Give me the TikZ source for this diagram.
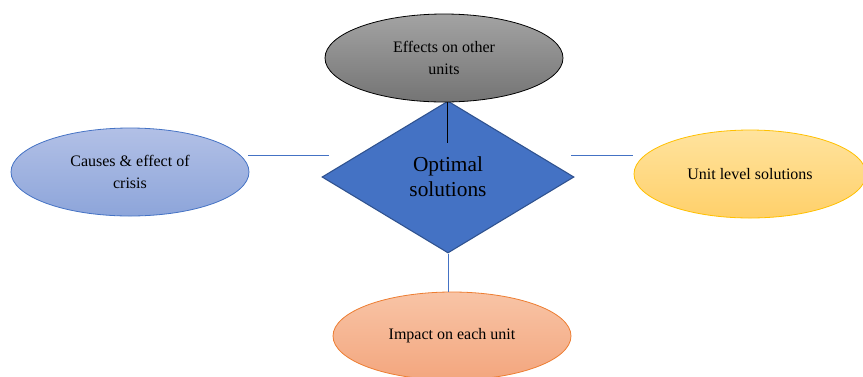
\documentclass[tikz,border=0pt]{standalone}
\usepackage{fontspec}
\setmainfont{Liberation Serif}
\usetikzlibrary{shapes.geometric}
\definecolor{accblue}{HTML}{4472C4}
\definecolor{darkblue}{HTML}{2F528F}
\definecolor{greytop}{HTML}{A3A3A3}
\definecolor{greybot}{HTML}{747474}
\definecolor{bluetop}{HTML}{B2C0E6}
\definecolor{bluebot}{HTML}{8DA5DA}
\definecolor{goldtop}{HTML}{FFE39E}
\definecolor{goldbot}{HTML}{FFD06A}
\definecolor{golden}{HTML}{FFC000}
\definecolor{peachtop}{HTML}{F8C4A6}
\definecolor{peachbot}{HTML}{F3A67E}
\definecolor{orangeline}{HTML}{ED7D31}

\begin{document}
\begin{tikzpicture}[x=0.75pt,y=0.75pt,yscale=-1,xscale=1,
  oval/.style={ellipse,minimum width=178.5pt,minimum height=66pt,inner sep=0.75pt,
    align=center,font=\fontsize{12}{16.5}\selectfont},
  link/.style={draw=accblue,line width=0.6pt}]
\useasboundingbox (0,0) rectangle (863,376);

%Diamond
\node (optimal) [diamond,aspect=1.66,minimum width=189pt,minimum height=114pt,
  fill=accblue,draw=darkblue,line width=0.8pt,align=center,
  font=\fontsize{16}{19}\selectfont] at (448,177) {Optimal\\solutions};

%Ellipses
\node (effects) [oval,draw=black,line width=0.6pt,top color=greytop,bottom color=greybot] at (444,58) {Effects on other\\units};
\node (causes) [oval,draw=accblue,line width=0.6pt,top color=bluetop,bottom color=bluebot] at (130,172) {Causes \& effect of\\crisis};
\node (unitlevel) [oval,minimum width=174pt,draw=golden,line width=0.6pt,top color=goldtop,bottom color=goldbot] at (750,174) {Unit level solutions};
\node (impact) [oval,draw=orangeline,line width=0.6pt,top color=peachtop,bottom color=peachbot] at (452,336) {Impact on each unit};

%Connectors
\coordinate (effend) at (447,143);
\draw [line width=0.6pt] (effects.south -| effend) -- (effend);
\coordinate (lstart) at (248,155);
\coordinate (lend) at (329,155);
\draw [link] (lstart) -- (lend);
\coordinate (rstart) at (571,155);
\coordinate (rend) at (633,155);
\draw [link] (rstart) -- (rend);
\draw [link] (optimal.south) -- (optimal.south |- impact.north);

\end{tikzpicture}
\end{document}
